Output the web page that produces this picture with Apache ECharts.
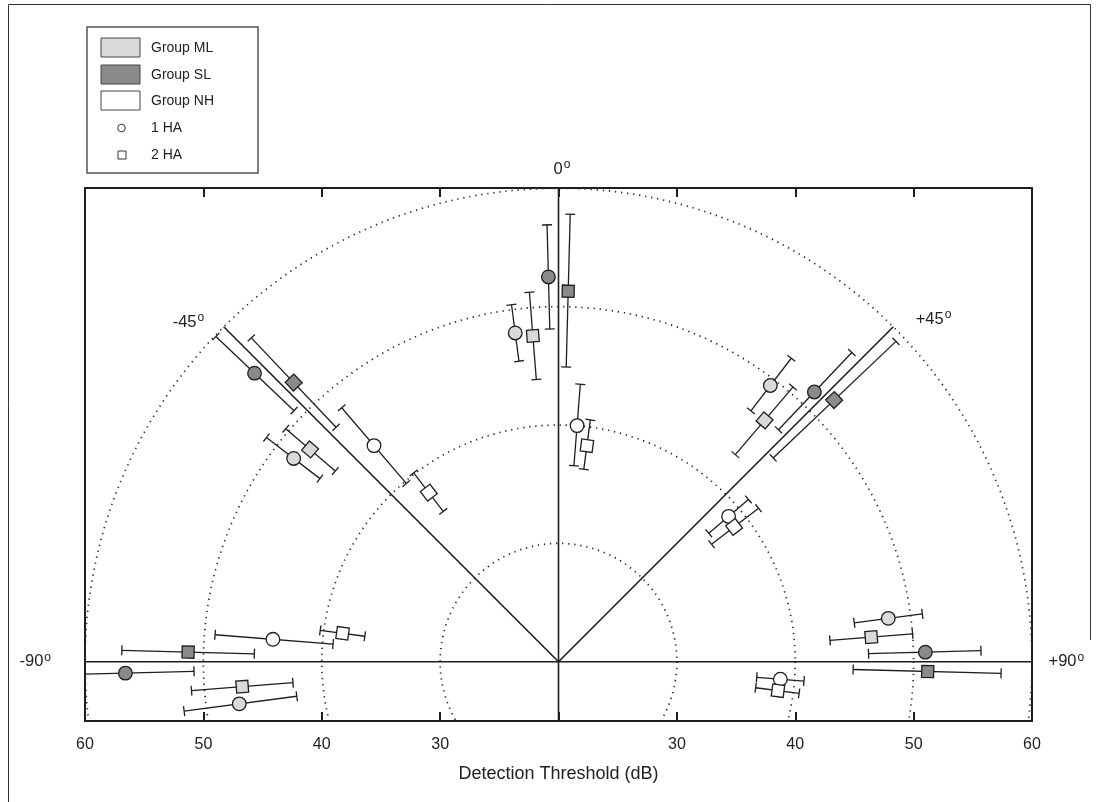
<!DOCTYPE html>
<html><head><meta charset="utf-8">
<script src="https://cdn.jsdelivr.net/npm/echarts@6/dist/echarts.min.js"></script>
<style>html,body{margin:0;padding:0;background:#fff}#c{width:1097px;height:802px}</style>
</head><body><div id="c"></div>
<script>
// ---- data ----
const angles = [-90, -45, 0, 45, 90];           // azimuth of the loudspeaker (deg)
const originDb = 20;                             // threshold at the centre of the plot
const rings = [30, 40, 50, 60];                  // dotted iso-threshold circles (dB)
const tickLabels = ['60', '50', '40', '30', '', '30', '40', '50', '60'];
const angleLabels = ['-90', '-45', '0', '+45', '+90'];

// Group ML
const mlOneMean = [47.2, 48.2, 48.0, 49.4, 48.1];
const mlOneLow  = [42.3, 45.4, 45.6, 46.7, 45.2];
const mlOneHigh = [51.9, 51.1, 50.4, 52.3, 51.0];
const mlTwoMean = [46.8, 47.6, 47.6, 46.8, 46.5];
const mlTwoLow  = [42.5, 44.8, 43.9, 43.0, 43.0];
const mlTwoHigh = [51.1, 50.3, 51.3, 50.5, 50.0];
// Group SL
const slOneMean = [56.6, 55.4, 52.5, 51.4, 51.0];
const slOneLow  = [50.8, 50.8, 48.1, 47.0, 46.2];
const slOneHigh = [62.3, 59.9, 56.9, 56.0, 55.7];
const slTwoMean = [51.3, 52.5, 51.3, 52.1, 51.2];
const slTwoLow  = [45.7, 47.3, 44.9, 45.0, 44.9];
const slTwoHigh = [56.9, 57.7, 57.8, 59.3, 57.4];
// Group NH
const nhOneMean = [44.2, 44.0, 40.0, 38.9, 38.8];
const nhOneLow  = [39.1, 39.8, 36.6, 36.7, 36.8];
const nhOneHigh = [49.1, 48.2, 43.5, 41.1, 40.8];
const nhTwoMean = [38.4, 38.0, 38.4, 38.7, 38.7];
const nhTwoLow  = [36.5, 36.0, 36.4, 36.3, 36.8];
const nhTwoHigh = [40.3, 40.1, 40.6, 41.3, 40.5];

// ---- styling ----
const FONT = '"Liberation Sans", Arial, Helvetica, sans-serif';
const INK = '#1e1e1e';
const FILL_ML = '#d9d9d9', FILL_SL = '#8a8a8a', FILL_NH = '#ffffff';
const rad = d => d * Math.PI / 180;

function pointSeries(name, means, lows, highs, marker, fill, offsetDeg) {
  return {
    name, type: 'custom', coordinateSystem: 'cartesian2d', clip: true, z: 5,
    data: angles.map((a, i) => [a, means[i], lows[i], highs[i]]),
    renderItem(params, api) {
      const phi = rad(api.value(0) + offsetDeg);
      const toPx = t => api.coord([(t - originDb) * Math.sin(phi), (t - originDb) * Math.cos(phi)]);
      const c = toPx(api.value(1)), lo = toPx(api.value(2)), hi = toPx(api.value(3));
      let ux = hi[0] - lo[0], uy = hi[1] - lo[1];
      const len = Math.hypot(ux, uy); ux /= len; uy /= len;
      const vx = -uy, vy = ux, cap = 5;
      const ls = { stroke: INK, lineWidth: 1.3 };
      const kids = [
        { type: 'line', shape: { x1: lo[0], y1: lo[1], x2: hi[0], y2: hi[1] }, style: ls },
        { type: 'line', shape: { x1: lo[0] - cap * vx, y1: lo[1] - cap * vy, x2: lo[0] + cap * vx, y2: lo[1] + cap * vy }, style: ls },
        { type: 'line', shape: { x1: hi[0] - cap * vx, y1: hi[1] - cap * vy, x2: hi[0] + cap * vx, y2: hi[1] + cap * vy }, style: ls }
      ];
      const ms = { fill, stroke: INK, lineWidth: 1.3 };
      if (marker === 'circle') {
        kids.push({ type: 'circle', shape: { cx: c[0], cy: c[1], r: 6.8 }, style: ms });
      } else {
        const h = 6;
        const pts = [[1, 1], [1, -1], [-1, -1], [-1, 1]].map(([s, t]) =>
          [c[0] + h * (s * ux + t * vx), c[1] + h * (s * uy + t * vy)]);
        kids.push({ type: 'polygon', shape: { points: pts }, style: ms });
      }
      return { type: 'group', children: kids };
    }
  };
}

const chart = echarts.init(document.getElementById('c'), null, { renderer: 'canvas' });

const axisLineStyle = { color: INK, width: 2 };
const option = {
  backgroundColor: '#fff',
  animation: false,
  textStyle: { fontFamily: FONT },
  grid: { left: 85, right: 65, top: 188, bottom: 81, containLabel: false },
  xAxis: [{
    type: 'value', min: -40, max: 40, interval: 10, position: 'bottom',
    axisLine: { onZero: false, lineStyle: axisLineStyle },
    axisTick: { inside: true, length: 9, lineStyle: { color: INK, width: 2 } },
    axisLabel: { formatter: v => tickLabels[Math.round((v + 40) / 10)], fontSize: 16, color: '#222', margin: 16, fontFamily: FONT },
    splitLine: { show: false },
    name: 'Detection Threshold (dB)', nameLocation: 'middle', nameGap: 44,
    nameTextStyle: { fontSize: 18, color: '#222', fontFamily: FONT }
  }, {
    type: 'value', min: -40, max: 40, interval: 10, position: 'top',
    axisLine: { onZero: false, lineStyle: axisLineStyle },
    axisTick: { inside: true, length: 9, lineStyle: { color: INK, width: 2 } },
    axisLabel: { show: false }, splitLine: { show: false }
  }],
  yAxis: [{
    type: 'value', min: -5, max: 40, position: 'left',
    axisLine: { show: true, onZero: false, lineStyle: axisLineStyle },
    axisTick: { show: false }, axisLabel: { show: false }, splitLine: { show: false }
  }, {
    type: 'value', min: -5, max: 40, position: 'right',
    axisLine: { show: true, onZero: false, lineStyle: axisLineStyle },
    axisTick: { show: false }, axisLabel: { show: false }, splitLine: { show: false }
  }],
  series: [
    { // dotted iso-threshold rings
      type: 'custom', coordinateSystem: 'cartesian2d', clip: true, silent: true, z: 1,
      data: rings.map(r => [0, r]),
      renderItem(params, api) {
        const c = api.coord([0, 0]);
        const r = api.size([api.value(1) - originDb, 0])[0];
        return { type: 'circle', shape: { cx: c[0], cy: c[1], r },
          style: { fill: 'none', stroke: '#2a2a2a', lineWidth: 1.7, lineDash: [1.3, 4.8] } };
      }
    },
    { // spokes at each azimuth
      type: 'custom', coordinateSystem: 'cartesian2d', clip: true, silent: true, z: 2,
      data: angles.map(a => [a]),
      renderItem(params, api) {
        const a = api.value(0), phi = rad(a);
        const r0 = a === 0 ? -5 : 0, r1 = 40;
        const p0 = api.coord([r0 * Math.sin(phi), r0 * Math.cos(phi)]);
        const p1 = api.coord([r1 * Math.sin(phi), r1 * Math.cos(phi)]);
        return { type: 'line', shape: { x1: p0[0], y1: p0[1], x2: p1[0], y2: p1[1] },
          style: { stroke: INK, lineWidth: 1.6 } };
      }
    },
    { // azimuth labels
      type: 'custom', coordinateSystem: 'cartesian2d', clip: false, silent: true, z: 6,
      data: angles.map(a => [a]),
      renderItem(params, api) {
        const layout = [[-90, 44.2], [-47.5, 42.4], [0.4, 41.6], [47.6, 42.9], [90, 42.9]][params.dataIndex];
        const phi = rad(layout[0]);
        const p = api.coord([layout[1] * Math.sin(phi), layout[1] * Math.cos(phi)]);
        return { type: 'text', x: p[0], y: p[1],
          style: { text: '{n|' + angleLabels[params.dataIndex] + '}{s|o}', align: 'center', verticalAlign: 'middle',
            rich: { n: { fontSize: 16.5, fontFamily: FONT, fill: '#222', lineHeight: 20 },
                    s: { fontSize: 12, fontFamily: FONT, fill: '#222', lineHeight: 12, padding: [0, 0, 9, 1] } } } };
      }
    },
    pointSeries('Group ML 1 HA', mlOneMean, mlOneLow, mlOneHigh, 'circle', FILL_ML, -7.5),
    pointSeries('Group ML 2 HA', mlTwoMean, mlTwoLow, mlTwoHigh, 'square', FILL_ML, -4.5),
    pointSeries('Group SL 1 HA', slOneMean, slOneLow, slOneHigh, 'circle', FILL_SL, -1.5),
    pointSeries('Group SL 2 HA', slTwoMean, slTwoLow, slTwoHigh, 'square', FILL_SL, 1.5),
    pointSeries('Group NH 1 HA', nhOneMean, nhOneLow, nhOneHigh, 'circle', FILL_NH, 4.5),
    pointSeries('Group NH 2 HA', nhTwoMean, nhTwoLow, nhTwoHigh, 'square', FILL_NH, 7.5)
  ],
  graphic: [
    // figure frame
    { type: 'polyline', shape: { points: [[8.5, 802], [8.5, 4.5], [1090.5, 4.5], [1090.5, 640]] }, style: { fill: 'none', stroke: '#333', lineWidth: 1 }, z: 0 },
    // legend
    { type: 'rect', shape: { x: 87, y: 27, width: 171, height: 146 }, style: { fill: '#fff', stroke: '#555', lineWidth: 1.5 }, z: 10 },
    { type: 'rect', shape: { x: 101, y: 38, width: 39, height: 19 }, style: { fill: FILL_ML, stroke: '#444', lineWidth: 1 }, z: 11 },
    { type: 'rect', shape: { x: 101, y: 65, width: 39, height: 19 }, style: { fill: FILL_SL, stroke: '#444', lineWidth: 1 }, z: 11 },
    { type: 'rect', shape: { x: 101, y: 91, width: 39, height: 19 }, style: { fill: FILL_NH, stroke: '#444', lineWidth: 1 }, z: 11 },
    { type: 'circle', shape: { cx: 121.5, cy: 128, r: 3.8 }, style: { fill: '#fff', stroke: '#333', lineWidth: 1 }, z: 11 },
    { type: 'rect', shape: { x: 118, y: 151, width: 8, height: 8 }, style: { fill: '#fff', stroke: '#333', lineWidth: 1 }, z: 11 },
    { type: 'text', x: 151, y: 48, style: { text: 'Group ML', font: '14px ' + FONT, fill: '#222', verticalAlign: 'middle' }, z: 11 },
    { type: 'text', x: 151, y: 75, style: { text: 'Group SL', font: '14px ' + FONT, fill: '#222', verticalAlign: 'middle' }, z: 11 },
    { type: 'text', x: 151, y: 101, style: { text: 'Group NH', font: '14px ' + FONT, fill: '#222', verticalAlign: 'middle' }, z: 11 },
    { type: 'text', x: 151, y: 128, style: { text: '1 HA', font: '14px ' + FONT, fill: '#222', verticalAlign: 'middle' }, z: 11 },
    { type: 'text', x: 151, y: 155, style: { text: '2 HA', font: '14px ' + FONT, fill: '#222', verticalAlign: 'middle' }, z: 11 }
  ]
};
chart.setOption(option);
</script>
</body></html>
